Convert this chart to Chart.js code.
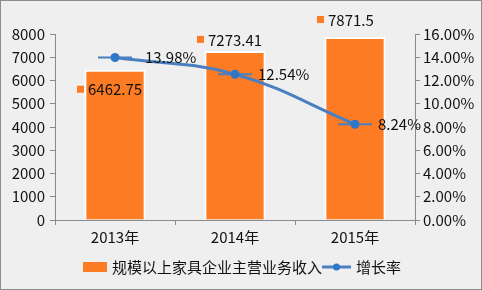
<!DOCTYPE html>
<html>
<head>
<meta charset="utf-8">
<script src="https://cdn.jsdelivr.net/npm/chart.js@4/dist/chart.umd.min.js"></script>
<style>
  body { margin: 0; background: #fff; }
  canvas { display: block; }
</style>
</head>
<body>
<canvas id="chart" width="482" height="290"></canvas>
<script>
const years = ['2013年', '2014年', '2015年'];
const revenue = [6462.75, 7273.41, 7871.5];      // 规模以上家具企业主营业务收入
const growth = [13.98, 12.54, 8.24];              // 增长率 (%)
const revenueTicks = { min: 0, max: 8000, step: 1000 };
const growthTicks = { min: 0, max: 16, step: 2 };

const barColor = '#fd7b22';
const lineColor = '#4a7fc1';
const pointColor = '#2f78c8';
const font = '"Noto Sans CJK SC", "Microsoft YaHei", sans-serif';
const fontSize = 15;
const textColor = '#111';
const axisColor = '#8a8a8a';

// label placement tweaks (pixels relative to the mark)
const barLabelDy = [20, -11, -17];
const lineLabelDx = [30, 23, 23];

// background + frame
const framePlugin = {
    id: 'frame',
    beforeDraw(chart) {
        const ctx = chart.ctx;
        ctx.save();
        ctx.fillStyle = '#efefef';
        ctx.fillRect(0, 0, chart.width, chart.height);
        ctx.strokeStyle = '#8c8c8c';
        ctx.lineWidth = 1;
        ctx.strokeRect(0.5, 0.5, chart.width - 1, chart.height - 1);
        ctx.restore();
    }
};

// value labels
const labelPlugin = {
    id: 'labels',
    afterDatasetsDraw(chart) {
        const ctx = chart.ctx;
        ctx.save();
        ctx.font = fontSize + 'px ' + font;
        ctx.textBaseline = 'middle';
        ctx.fillStyle = textColor;

        const bars = chart.getDatasetMeta(2).data;
        bars.forEach((el, i) => {
            const y = el.y + barLabelDy[i];
            ctx.fillStyle = barColor;
            ctx.fillRect(el.x - 38, y - 4, 7, 7);
            ctx.fillStyle = textColor;
            ctx.fillText(String(revenue[i]), el.x - 27, y);
        });

        const pts = chart.getDatasetMeta(0).data;
        pts.forEach((el, i) => {
            ctx.fillText(growth[i].toFixed(2) + '%', el.x + lineLabelDx[i], el.y);
        });
        ctx.restore();
    }
};

// bottom legend
const legendPlugin = {
    id: 'customLegend',
    afterDraw(chart) {
        const ctx = chart.ctx;
        const y = 267;
        ctx.save();
        ctx.font = fontSize + 'px ' + font;
        ctx.textBaseline = 'middle';
        ctx.fillStyle = barColor;
        ctx.fillRect(83, y - 5, 24, 10);
        ctx.fillStyle = textColor;
        ctx.fillText('规模以上家具企业主营业务收入', 112, y);

        ctx.strokeStyle = lineColor;
        ctx.lineWidth = 3;
        ctx.beginPath();
        ctx.moveTo(322, y);
        ctx.lineTo(351, y);
        ctx.stroke();
        ctx.fillStyle = pointColor;
        ctx.beginPath();
        ctx.arc(336.5, y, 3.5, 0, Math.PI * 2);
        ctx.fill();
        ctx.fillStyle = textColor;
        ctx.fillText('增长率', 356, y);
        ctx.restore();
    }
};

new Chart(document.getElementById('chart'), {
    data: {
        labels: years,
        datasets: [
            {
                type: 'line',
                label: '增长率',
                data: growth,
                yAxisID: 'y1',
                borderColor: lineColor,
                borderWidth: 3,
                tension: 0.4,
                pointRadius: 4.5,
                pointBackgroundColor: pointColor,
                pointBorderWidth: 0,
                order: 0
            },
            {
                // horizontal dash marker through each point
                type: 'line',
                label: 'marker',
                data: growth,
                yAxisID: 'y1',
                showLine: false,
                pointStyle: 'line',
                pointRadius: 17,
                pointBorderColor: lineColor,
                pointBorderWidth: 2,
                order: 1
            },
            {
                type: 'bar',
                label: '规模以上家具企业主营业务收入',
                data: revenue,
                yAxisID: 'y',
                backgroundColor: barColor,
                borderColor: '#ffffff',
                borderWidth: 2,
                barPercentage: 0.51,
                categoryPercentage: 1,
                order: 2
            }
        ]
    },
    options: {
        responsive: false,
        animation: false,
        layout: { padding: { top: 34, left: 0, right: 0, bottom: 30 } },
        plugins: {
            legend: { display: false },
            tooltip: { enabled: false }
        },
        scales: {
            x: {
                offset: true,
                grid: { offset: true, drawOnChartArea: false, tickLength: 5, color: axisColor },
                border: { color: axisColor },
                ticks: { color: textColor, font: { family: font, size: fontSize }, padding: 3 },
                afterFit(scale) { scale.height = 40; }
            },
            y: {
                position: 'left',
                min: revenueTicks.min,
                max: revenueTicks.max,
                grid: { drawOnChartArea: false, tickLength: 5, color: axisColor },
                border: { color: axisColor },
                ticks: {
                    stepSize: revenueTicks.step,
                    color: textColor,
                    font: { family: font, size: fontSize },
                    padding: 5,
                    callback: v => String(v)
                },
                afterFit(scale) { scale.width = 55; }
            },
            y1: {
                position: 'right',
                min: growthTicks.min,
                max: growthTicks.max,
                grid: { drawOnChartArea: false, tickLength: 5, color: axisColor },
                border: { color: axisColor },
                ticks: {
                    stepSize: growthTicks.step,
                    color: textColor,
                    font: { family: font, size: fontSize },
                    padding: 3,
                    callback: v => v.toFixed(2) + '%'
                },
                afterFit(scale) { scale.width = 67; }
            }
        }
    },
    plugins: [framePlugin, labelPlugin, legendPlugin]
});
</script>
</body>
</html>
